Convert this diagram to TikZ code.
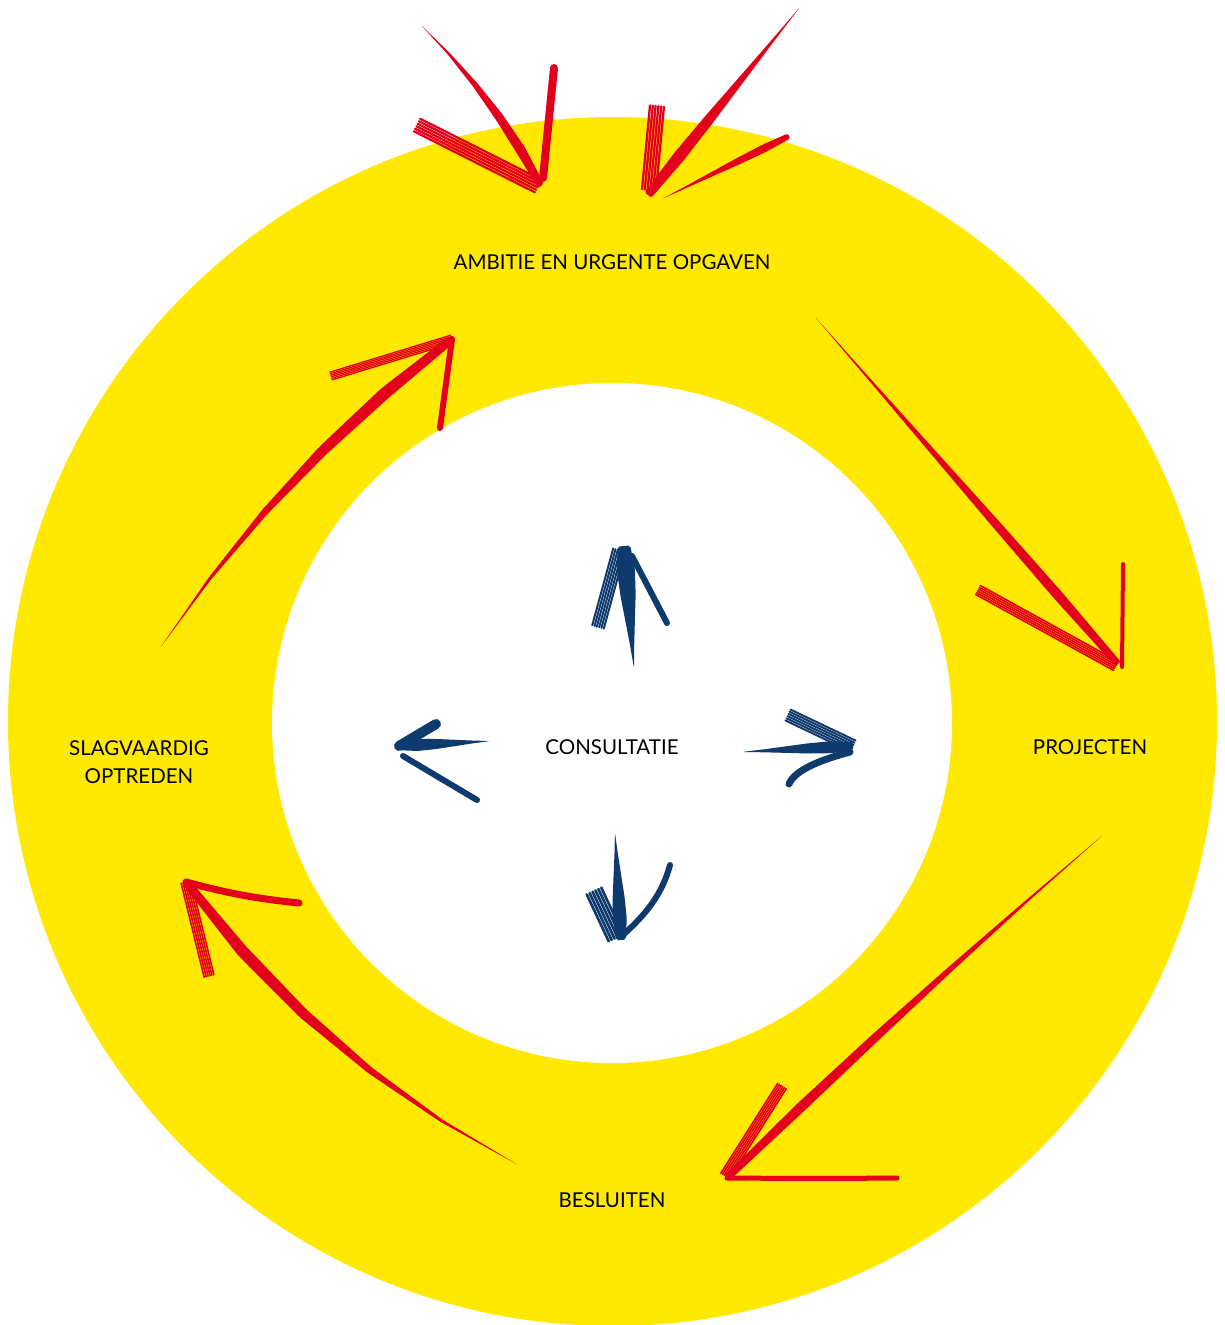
\documentclass[tikz,border=0pt]{standalone}
\usepackage{fontspec}
\setmainfont{Lato}
\usetikzlibrary{calc}
\definecolor{ringyellow}{RGB}{255,233,0}
\definecolor{brushred}{RGB}{226,0,26}
\definecolor{brushblue}{RGB}{14,58,110}
% tapered brush shaft: colour, tail, tip, half width, bend
\newcommand\brushshaft[5]{%
  \pgfmathsetmacro\bsLa{0.64*(#5)+0.25*(#4)}%
  \pgfmathsetmacro\bsLb{0.96*(#5)+0.55*(#4)}%
  \pgfmathsetmacro\bsLc{0.96*(#5)+0.85*(#4)}%
  \pgfmathsetmacro\bsLd{0.64*(#5)+(#4)}%
  \pgfmathsetmacro\bsRa{0.64*(#5)-0.25*(#4)}%
  \pgfmathsetmacro\bsRb{0.96*(#5)-0.55*(#4)}%
  \pgfmathsetmacro\bsRc{0.96*(#5)-0.85*(#4)}%
  \pgfmathsetmacro\bsRd{0.64*(#5)-(#4)}%
  \pgfmathsetmacro\bsE{0.7*(#4)}%
  \fill[#1, rounded corners=2pt] (#2)
    -- ($(#2)!0.2!(#3)!\bsLa pt!90:(#3)$)
    -- ($(#2)!0.4!(#3)!\bsLb pt!90:(#3)$)
    -- ($(#2)!0.6!(#3)!\bsLc pt!90:(#3)$)
    -- ($(#2)!0.8!(#3)!\bsLd pt!90:(#3)$)
    -- ($(#3)!\bsE pt!-90:(#2)$)
    -- ($(#3)!\bsE pt!90:(#2)$)
    -- ($(#2)!0.8!(#3)!\bsRd pt!90:(#3)$)
    -- ($(#2)!0.6!(#3)!\bsRc pt!90:(#3)$)
    -- ($(#2)!0.4!(#3)!\bsRb pt!90:(#3)$)
    -- ($(#2)!0.2!(#3)!\bsRa pt!90:(#3)$)
    -- cycle;
}
% bristly stroke: colour, start, end, half width
\newcommand\brushbristle[4]{%
  \foreach \bbo in {-1,-0.6,-0.2,0.2,0.6,1}{%
    \pgfmathsetmacro\bbd{\bbo*(#4)}%
    \pgfmathsetmacro\bbw{0.33*(#4)}%
    \draw[#1, line width=\bbw pt, line cap=round] ($(#2)!\bbd pt!90:(#3)$) -- ($(#3)!\bbd pt!-90:(#2)$);
  }%
}
\begin{document}
\begin{tikzpicture}[x=1pt,y=-1pt,
  lbl/.style={font=\fontsize{20.5}{28}\selectfont, text=black, align=center, inner sep=0pt},
  redline/.style={draw=brushred, line cap=round},
  blueline/.style={draw=brushblue, line cap=round}]
\useasboundingbox (0,0) rectangle (1225,1325);
\fill[white] (0,0) rectangle (1225,1325);
\begin{scope}
\clip (0,0) rectangle (1225,1325);
\fill[ringyellow] (612.5,721.5) circle[radius=604.5pt];
\fill[white] (612,723) circle[radius=340pt];
\end{scope}

% labels
\node[lbl] (ambitie) at (612,262) {AMBITIE EN URGENTE OPGAVEN};
\node[lbl] (consult) at (612,747) {CONSULTATIE};
\node[lbl] (projecten) at (1090,747) {PROJECTEN};
\node[lbl] (slag) at (139,762) {SLAGVAARDIG\\OPTREDEN};
\node[lbl] (besluiten) at (612,1200) {BESLUITEN};

% ---- red arrow 1 (top left, into ring)
\coordinate (a1t) at (421,25);
\coordinate (a1p) at (541,186);
\coordinate (a1r) at (554,68);
\coordinate (a1rb) at (543,178);
\coordinate (a1l) at (417,125);
\coordinate (a1lb) at (538,186);
\brushshaft{brushred}{a1t}{a1p}{5}{8}
\draw[redline, line width=8pt] (a1r) -- (a1rb);
\brushbristle{brushred}{a1l}{a1lb}{7}

% ---- red arrow 2 (top right, into ring)
\coordinate (a2t) at (800,7);
\coordinate (a2p) at (648,195);
\coordinate (a2v) at (657,106);
\coordinate (a2vb) at (649,190);
\coordinate (a2r) at (789,136);
\coordinate (a2rb) at (662,199);
\brushshaft{brushred}{a2t}{a2p}{6}{0}
\brushbristle{brushred}{a2v}{a2vb}{7}
\brushshaft{brushred}{a2rb}{a2r}{4}{0}

% ---- red arrow 3 (to PROJECTEN)
\coordinate (a3t) at (815,317);
\coordinate (a3p) at (1118,664);
\coordinate (a3v) at (1123,564);
\coordinate (a3vb) at (1122,667);
\coordinate (a3o) at (978,590);
\coordinate (a3ob) at (1116,666);
\brushshaft{brushred}{a3t}{a3p}{5}{0}
\draw[redline, line width=4pt] (a3v) -- (a3vb);
\brushbristle{brushred}{a3o}{a3ob}{5}

% ---- red arrow 4 (to BESLUITEN)
\coordinate (a4t) at (1103,835);
\coordinate (a4p) at (727,1178);
\coordinate (a4h) at (897,1178);
\coordinate (a4o) at (782,1086);
\coordinate (a4ob) at (725,1176);
\brushshaft{brushred}{a4t}{a4p}{5}{-4}
\draw[redline, line width=5pt] (a4p) .. controls (760,1178) and (780,1179) .. (a4h);
\brushbristle{brushred}{a4o}{a4ob}{5}

% ---- red arrow 5 (to SLAGVAARDIG OPTREDEN)
\coordinate (a5t) at (518,1165);
\coordinate (a5p) at (186,882);
\coordinate (a5h) at (299,903);
\coordinate (a5v) at (209,976);
\brushshaft{brushred}{a5t}{a5p}{6}{25}
\draw[redline, line width=7pt] (a5p) .. controls (230,894) and (260,899) .. (a5h);
\brushbristle{brushred}{a5v}{a5p}{5}

% ---- red arrow 6 (to AMBITIE)
\coordinate (a6t) at (160,648);
\coordinate (a6p) at (452,339);
\coordinate (a6l) at (331,376);
\coordinate (a6d) at (440,428);
\brushshaft{brushred}{a6t}{a6p}{6}{18}
\brushbristle{brushred}{a6l}{a6p}{4}
\draw[redline, line width=6pt] (a6p) -- (a6d);

% ---- blue arrow up
\coordinate (b1t) at (634,668);
\coordinate (b1p) at (624,546);
\coordinate (b1l) at (598,627);
\coordinate (b1lb) at (619,550);
\coordinate (b1r) at (667,623);
\coordinate (b1rb) at (632,556);
\brushshaft{brushblue}{b1t}{b1p}{9}{0}
\brushbristle{brushblue}{b1l}{b1lb}{6}
\draw[blueline, line width=6pt] (b1rb) -- (b1r);

% ---- blue arrow left
\coordinate (b2t) at (490,741);
\coordinate (b2p) at (399,746);
\coordinate (b2u) at (436,724);
\coordinate (b2l) at (477,800);
\coordinate (b2lb) at (403,756);
\brushshaft{brushblue}{b2t}{b2p}{6}{0}
\draw[blueline, line width=10pt] (b2u) -- (b2p);
\draw[blueline, line width=6pt] (b2lb) -- (b2l);

% ---- blue arrow right
\coordinate (b3t) at (742,752);
\coordinate (b3p) at (853,746);
\coordinate (b3u) at (788,715);
\coordinate (b3l) at (789,784);
\coordinate (b3lb) at (850,752);
\brushshaft{brushblue}{b3t}{b3p}{6}{0}
\brushbristle{brushblue}{b3u}{b3p}{6}
\draw[blueline, line width=7pt] (b3lb) .. controls (820,760) and (795,770) .. (b3l);

% ---- blue arrow down
\coordinate (b4t) at (615,833);
\coordinate (b4p) at (621,940);
\coordinate (b4l) at (594,891);
\coordinate (b4lb) at (616,938);
\coordinate (b4r) at (670,865);
\coordinate (b4rb) at (624,934);
\brushshaft{brushblue}{b4t}{b4p}{7}{0}
\brushbristle{brushblue}{b4l}{b4lb}{8}
\draw[blueline, line width=6pt] (b4r) .. controls (662,895) and (645,915) .. (b4rb);
\end{tikzpicture}
\end{document}
